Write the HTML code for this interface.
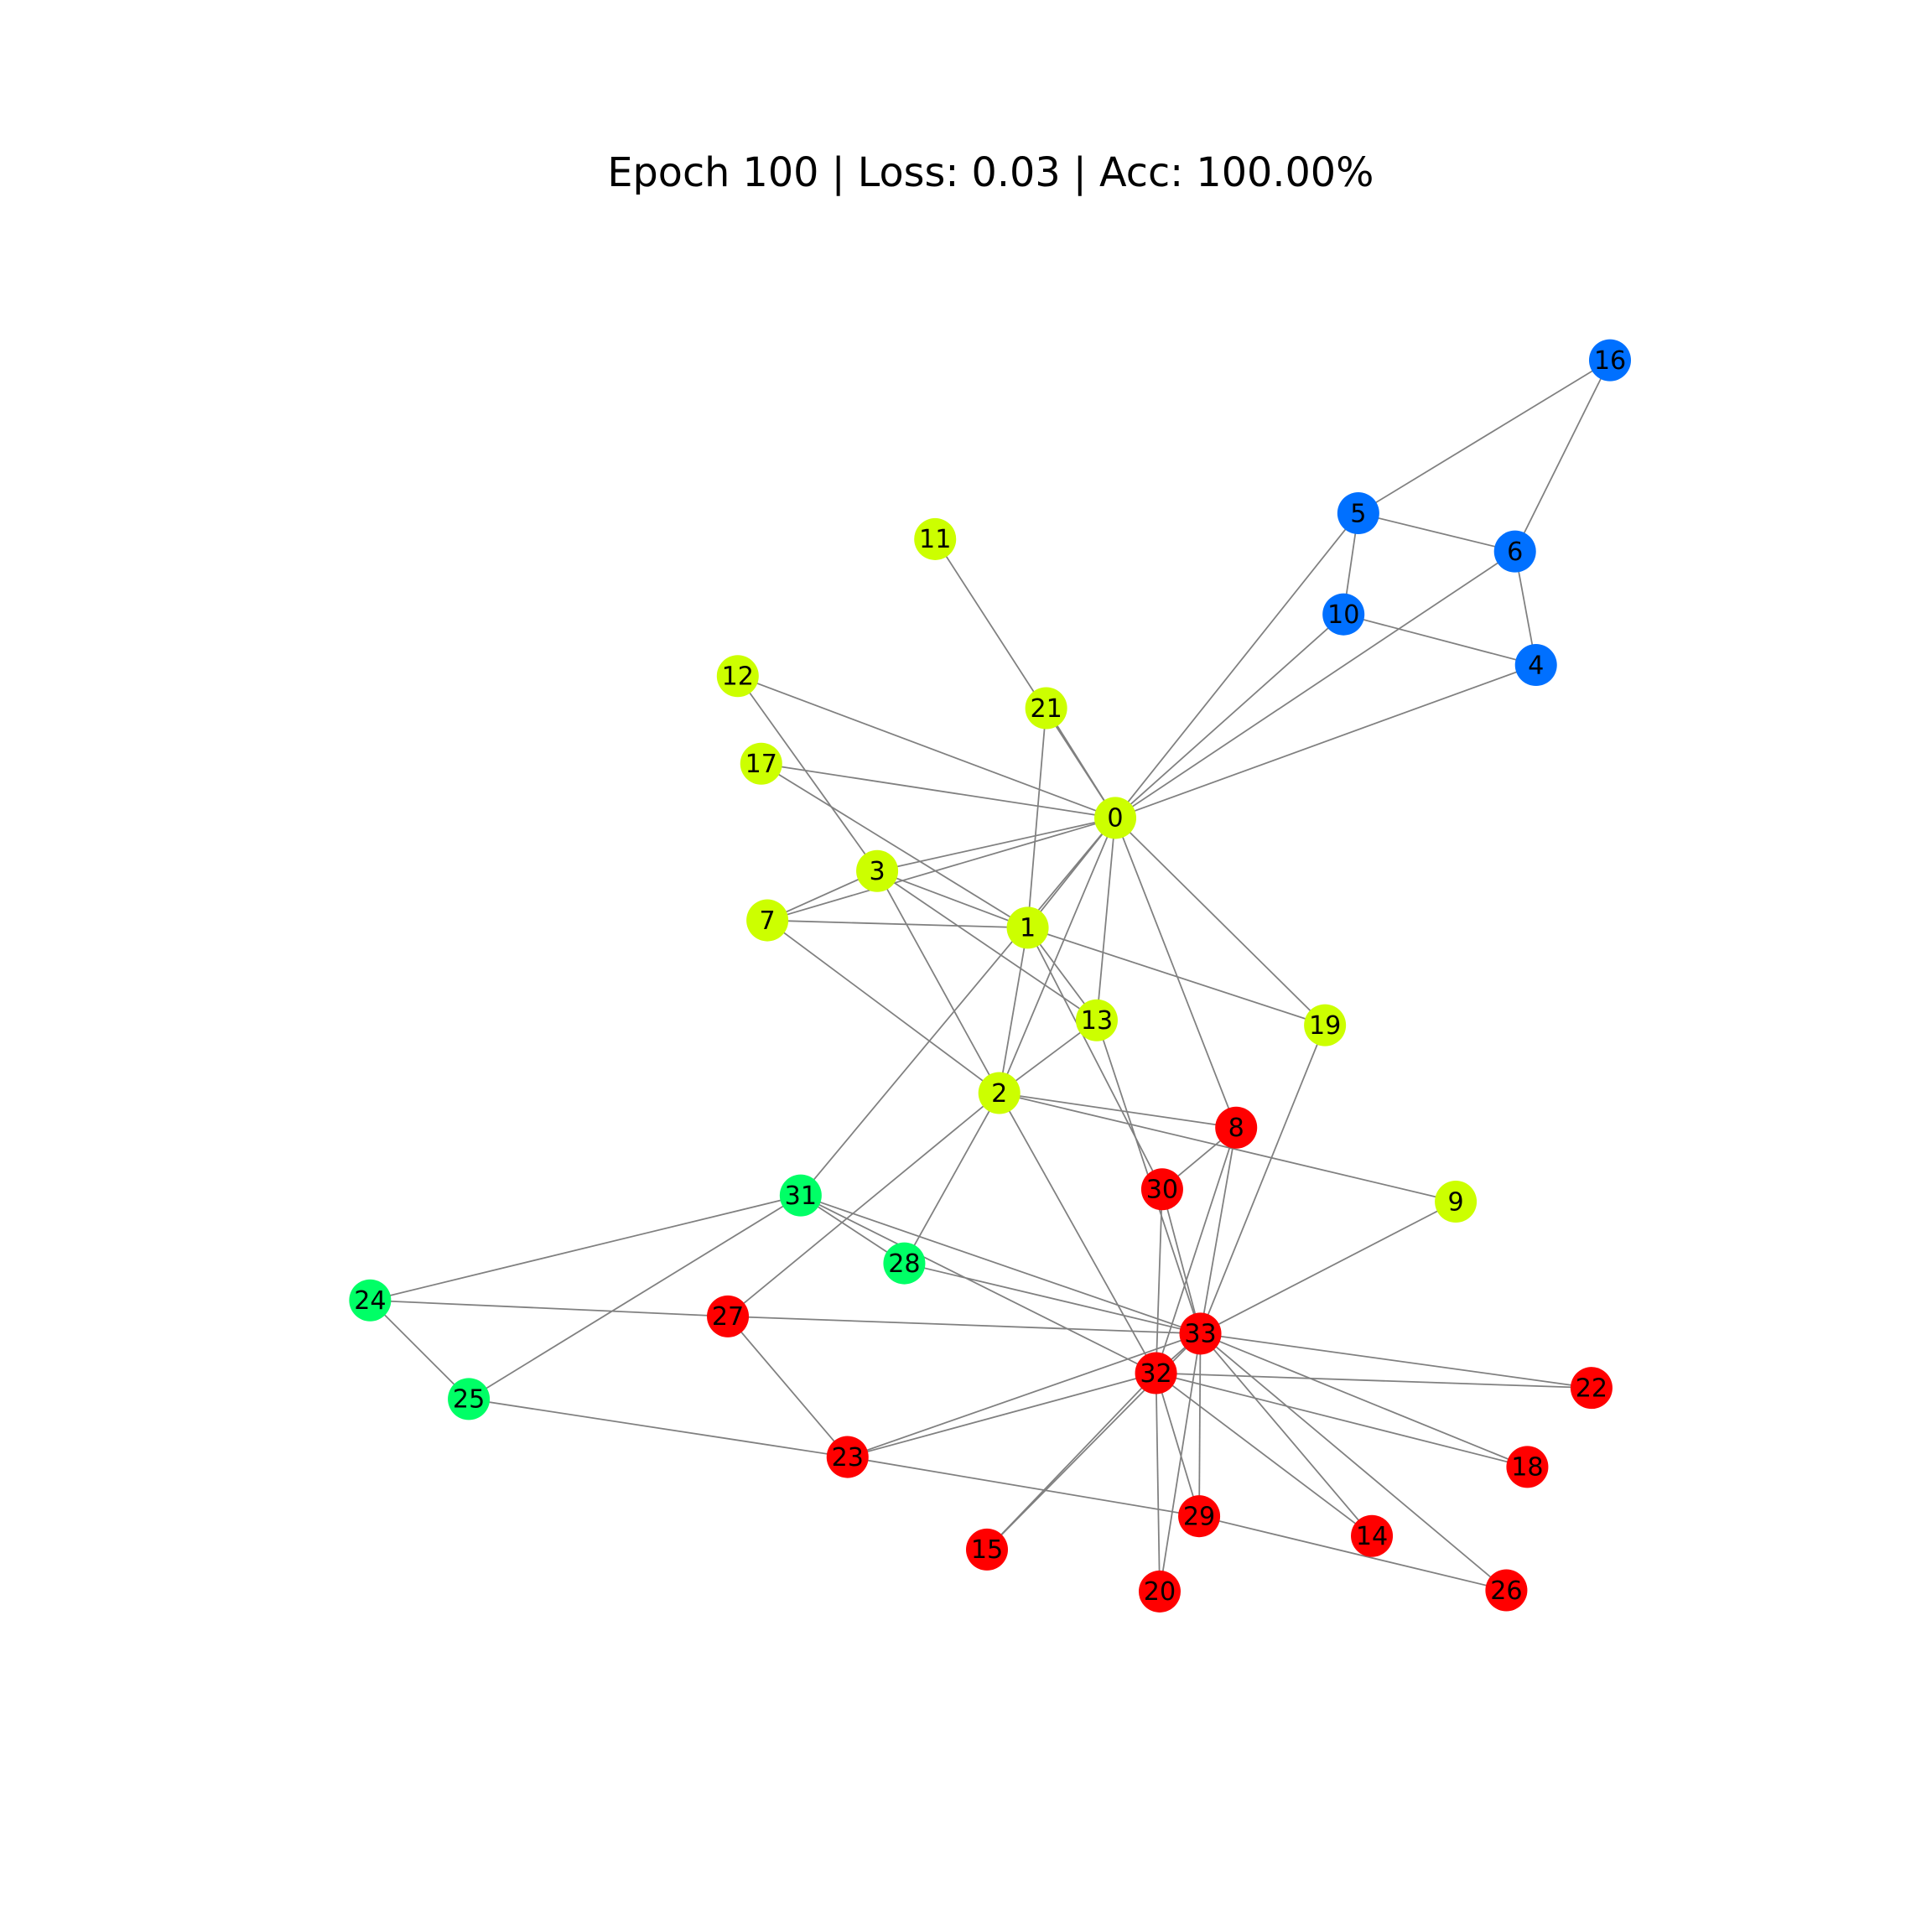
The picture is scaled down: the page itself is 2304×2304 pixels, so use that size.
<!DOCTYPE html>
<html><head><meta charset="utf-8"><style>
html,body{margin:0;padding:0;background:#fff;}
svg{display:block;}
</style></head><body>
<svg width="2304" height="2304" viewBox="0 0 1566 1566" xmlns="http://www.w3.org/2000/svg">
<rect width="1566" height="1566" fill="#fff"/>
<text x="803" y="151" font-size="32.4" text-anchor="middle" fill="#000" style="font-family:'DejaVu Sans',sans-serif">Epoch 100 | Loss: 0.03 | Acc: 100.00%</text>
<g stroke="#808080" stroke-width="1.2">
<line x1="904" y1="663" x2="833" y2="752"/>
<line x1="904" y1="663" x2="810" y2="886"/>
<line x1="904" y1="663" x2="711" y2="706"/>
<line x1="904" y1="663" x2="1245" y2="539"/>
<line x1="904" y1="663" x2="1101" y2="416"/>
<line x1="904" y1="663" x2="1228" y2="447"/>
<line x1="904" y1="663" x2="622" y2="746"/>
<line x1="904" y1="663" x2="1002" y2="914"/>
<line x1="904" y1="663" x2="1089" y2="498"/>
<line x1="904" y1="663" x2="758" y2="437"/>
<line x1="904" y1="663" x2="598" y2="548"/>
<line x1="904" y1="663" x2="889" y2="827"/>
<line x1="904" y1="663" x2="617" y2="619"/>
<line x1="904" y1="663" x2="1074" y2="831"/>
<line x1="904" y1="663" x2="848" y2="574"/>
<line x1="904" y1="663" x2="649" y2="969"/>
<line x1="833" y1="752" x2="810" y2="886"/>
<line x1="833" y1="752" x2="711" y2="706"/>
<line x1="833" y1="752" x2="622" y2="746"/>
<line x1="833" y1="752" x2="889" y2="827"/>
<line x1="833" y1="752" x2="617" y2="619"/>
<line x1="833" y1="752" x2="1074" y2="831"/>
<line x1="833" y1="752" x2="848" y2="574"/>
<line x1="833" y1="752" x2="942" y2="964"/>
<line x1="810" y1="886" x2="711" y2="706"/>
<line x1="810" y1="886" x2="622" y2="746"/>
<line x1="810" y1="886" x2="1002" y2="914"/>
<line x1="810" y1="886" x2="1180" y2="974"/>
<line x1="810" y1="886" x2="889" y2="827"/>
<line x1="810" y1="886" x2="590" y2="1067"/>
<line x1="810" y1="886" x2="733" y2="1024"/>
<line x1="810" y1="886" x2="937" y2="1113"/>
<line x1="711" y1="706" x2="622" y2="746"/>
<line x1="711" y1="706" x2="598" y2="548"/>
<line x1="711" y1="706" x2="889" y2="827"/>
<line x1="1245" y1="539" x2="1228" y2="447"/>
<line x1="1245" y1="539" x2="1089" y2="498"/>
<line x1="1101" y1="416" x2="1228" y2="447"/>
<line x1="1101" y1="416" x2="1089" y2="498"/>
<line x1="1101" y1="416" x2="1305" y2="292"/>
<line x1="1228" y1="447" x2="1305" y2="292"/>
<line x1="1002" y1="914" x2="942" y2="964"/>
<line x1="1002" y1="914" x2="937" y2="1113"/>
<line x1="1002" y1="914" x2="973" y2="1081"/>
<line x1="1180" y1="974" x2="973" y2="1081"/>
<line x1="889" y1="827" x2="973" y2="1081"/>
<line x1="1112" y1="1245" x2="937" y2="1113"/>
<line x1="1112" y1="1245" x2="973" y2="1081"/>
<line x1="800" y1="1256" x2="937" y2="1113"/>
<line x1="800" y1="1256" x2="973" y2="1081"/>
<line x1="1238" y1="1189" x2="937" y2="1113"/>
<line x1="1238" y1="1189" x2="973" y2="1081"/>
<line x1="1074" y1="831" x2="973" y2="1081"/>
<line x1="940" y1="1290" x2="937" y2="1113"/>
<line x1="940" y1="1290" x2="973" y2="1081"/>
<line x1="1290" y1="1125" x2="937" y2="1113"/>
<line x1="1290" y1="1125" x2="973" y2="1081"/>
<line x1="687" y1="1181" x2="380" y2="1134"/>
<line x1="687" y1="1181" x2="590" y2="1067"/>
<line x1="687" y1="1181" x2="972" y2="1229"/>
<line x1="687" y1="1181" x2="937" y2="1113"/>
<line x1="687" y1="1181" x2="973" y2="1081"/>
<line x1="300" y1="1054" x2="380" y2="1134"/>
<line x1="300" y1="1054" x2="590" y2="1067"/>
<line x1="300" y1="1054" x2="649" y2="969"/>
<line x1="380" y1="1134" x2="649" y2="969"/>
<line x1="1221" y1="1289" x2="972" y2="1229"/>
<line x1="1221" y1="1289" x2="973" y2="1081"/>
<line x1="590" y1="1067" x2="973" y2="1081"/>
<line x1="733" y1="1024" x2="649" y2="969"/>
<line x1="733" y1="1024" x2="973" y2="1081"/>
<line x1="972" y1="1229" x2="937" y2="1113"/>
<line x1="972" y1="1229" x2="973" y2="1081"/>
<line x1="942" y1="964" x2="937" y2="1113"/>
<line x1="942" y1="964" x2="973" y2="1081"/>
<line x1="649" y1="969" x2="937" y2="1113"/>
<line x1="649" y1="969" x2="973" y2="1081"/>
<line x1="937" y1="1113" x2="973" y2="1081"/>
</g>
<g fill="#ccff00">
<circle cx="904" cy="663" r="17"/><circle cx="833" cy="752" r="17"/><circle cx="810" cy="886" r="17"/><circle cx="711" cy="706" r="17"/><circle cx="622" cy="746" r="17"/><circle cx="1180" cy="974" r="17"/><circle cx="758" cy="437" r="17"/><circle cx="598" cy="548" r="17"/><circle cx="889" cy="827" r="17"/><circle cx="617" cy="619" r="17"/><circle cx="1074" cy="831" r="17"/><circle cx="848" cy="574" r="17"/>
</g>
<g fill="#0070ff">
<circle cx="1245" cy="539" r="17"/><circle cx="1101" cy="416" r="17"/><circle cx="1228" cy="447" r="17"/><circle cx="1089" cy="498" r="17"/><circle cx="1305" cy="292" r="17"/>
</g>
<g fill="#00ff66">
<circle cx="300" cy="1054" r="17"/><circle cx="380" cy="1134" r="17"/><circle cx="733" cy="1024" r="17"/><circle cx="649" cy="969" r="17"/>
</g>
<g fill="#ff0000">
<circle cx="1002" cy="914" r="17"/><circle cx="1112" cy="1245" r="17"/><circle cx="800" cy="1256" r="17"/><circle cx="1238" cy="1189" r="17"/><circle cx="940" cy="1290" r="17"/><circle cx="1290" cy="1125" r="17"/><circle cx="687" cy="1181" r="17"/><circle cx="1221" cy="1289" r="17"/><circle cx="590" cy="1067" r="17"/><circle cx="972" cy="1229" r="17"/><circle cx="942" cy="964" r="17"/><circle cx="937" cy="1113" r="17"/><circle cx="973" cy="1081" r="17"/>
</g>
<g font-size="20.5" text-anchor="middle" fill="#000" style="font-family:'DejaVu Sans',sans-serif">
<text x="904" y="670">0</text><text x="833" y="759">1</text><text x="810" y="893">2</text><text x="711" y="713">3</text><text x="1245" y="546">4</text><text x="1101" y="423">5</text><text x="1228" y="454">6</text><text x="622" y="753">7</text><text x="1002" y="921">8</text><text x="1180" y="981">9</text><text x="1089" y="505">10</text><text x="758" y="444">11</text><text x="598" y="555">12</text><text x="889" y="834">13</text><text x="1112" y="1252">14</text><text x="800" y="1263">15</text><text x="1305" y="299">16</text><text x="617" y="626">17</text><text x="1238" y="1196">18</text><text x="1074" y="838">19</text><text x="940" y="1297">20</text><text x="848" y="581">21</text><text x="1290" y="1132">22</text><text x="687" y="1188">23</text><text x="300" y="1061">24</text><text x="380" y="1141">25</text><text x="1221" y="1296">26</text><text x="590" y="1074">27</text><text x="733" y="1031">28</text><text x="972" y="1236">29</text><text x="942" y="971">30</text><text x="649" y="976">31</text><text x="937" y="1120">32</text><text x="973" y="1088">33</text>
</g>
</svg>
</body></html>
